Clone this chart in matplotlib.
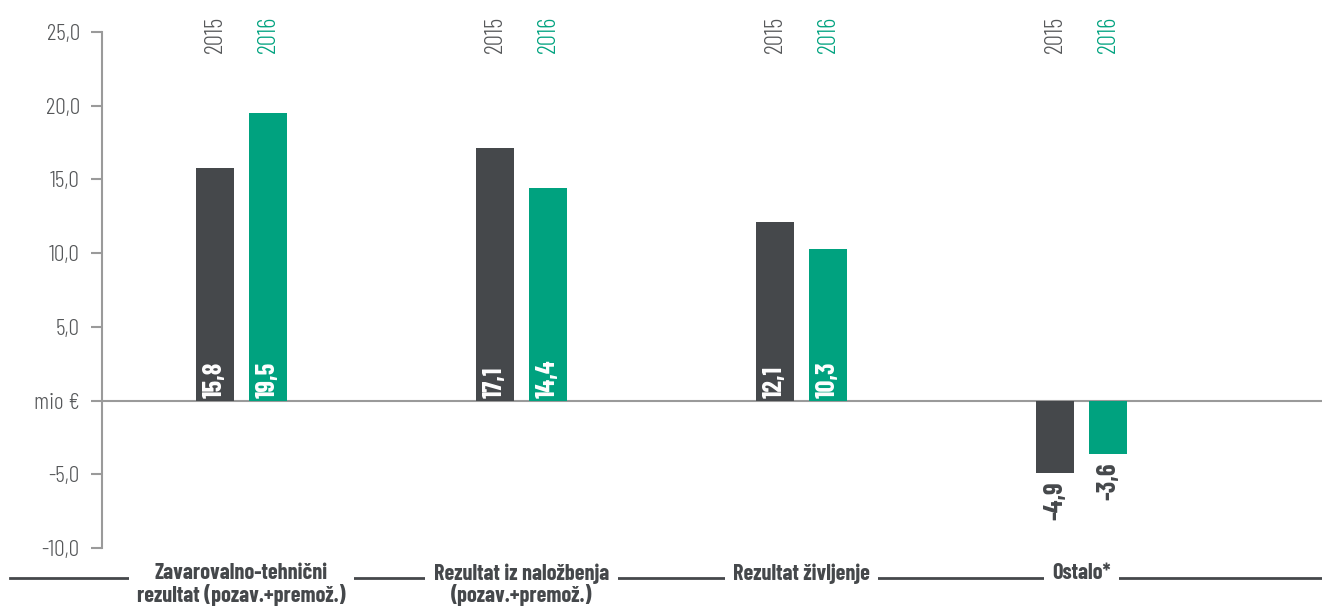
import matplotlib.pyplot as plt
import numpy as np

# data
categories = ["Zavarovalno-tehnični\nrezultat (pozav.+premož.)",
              "Rezultat iz naložbenja\n(pozav.+premož.)",
              "Rezultat življenje",
              "Ostalo*"]
years = ["2015", "2016"]
vals_2015 = [15.8, 17.1, 12.1, -4.9]
vals_2016 = [19.5, 14.4, 10.3, -3.6]
yticks = [-10, -5, 0, 5, 10, 15, 20, 25]

dark = "#45484b"
green = "#00a27f"
axis_grey = "#9a9a9a"
text_grey = "#555759"
font = "Barlow Condensed"

W, H = 1322, 608
fig = plt.figure(figsize=(W / 100, H / 100), dpi=100)
# axes from x=102..1322 px, y=32..548 px
ax = fig.add_axes([102 / W, 1 - 548 / H, 1 - 102 / W, (548 - 32) / H])

x = np.arange(len(categories))
off = 0.0946
bw = 0.136
ax.bar(x - off, vals_2015, bw, color=dark, zorder=2)
ax.bar(x + off, vals_2016, bw, color=green, zorder=2)

ax.set_xlim(-0.498, 3.859)
ax.set_ylim(-10, 25)
ax.axhline(0, color=axis_grey, lw=1.5, zorder=1)

for s in ["top", "right", "bottom"]:
    ax.spines[s].set_visible(False)
ax.spines["left"].set_color(axis_grey)
ax.spines["left"].set_linewidth(1.5)
ax.set_xticks([])
ax.set_yticks(yticks)
ax.set_yticklabels(["mio €" if v == 0 else f"{v:.1f}".replace(".", ",") for v in yticks],
                   fontsize=17, color=text_grey, family=font, fontweight=300)
ax.tick_params(axis="y", length=8, width=1.5, color=axis_grey, pad=8)

# value labels
for vals, dx in [(vals_2015, -off), (vals_2016, off)]:
    for i, v in enumerate(vals):
        lab = f"{v:.1f}".replace(".", ",")
        if v >= 0:
            ax.text(i + dx, 0.2, lab, rotation=90, ha="center", va="bottom",
                    color="white", fontsize=19, fontweight="bold", family=font, zorder=3)
        else:
            ax.text(i + dx, v - 0.6, lab, rotation=90, ha="center", va="top",
                    color=dark, fontsize=19, fontweight="bold", family=font, zorder=3)

# year labels on top
for i in range(len(categories)):
    ax.text(i - off, 23.6, years[0], rotation=90, ha="center", va="bottom",
            color=text_grey, fontsize=18, family=font, fontweight=300)
    ax.text(i + off, 23.6, years[1], rotation=90, ha="center", va="bottom",
            color=green, fontsize=18, family=font, fontweight=300)

# bottom category row with line behind
y_line = 1 - 578 / H
fig.add_artist(plt.Line2D([10 / W, 1], [y_line, y_line], color=dark, lw=2,
                          transform=fig.transFigure, zorder=1))
for i, c in enumerate(categories):
    xf = fig.transFigure.inverted().transform(ax.transData.transform((i, 0)))[0]
    fig.text(xf, 1 - 563 / H, c, ha="center", va="top", fontsize=16,
             fontweight="bold", color=dark, family=font, linespacing=1.05,
             bbox=dict(facecolor="white", edgecolor="none", pad=6), zorder=2)

fig.savefig("out.png", dpi=100)
